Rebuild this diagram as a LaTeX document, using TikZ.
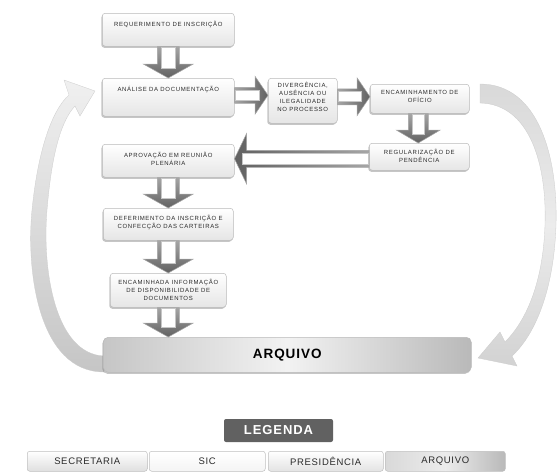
\documentclass[tikz,border=0pt]{standalone}
\usepackage{fontspec}
\setmainfont{Liberation Sans}
\newfontfamily\boxfont[LetterSpace=11]{Liberation Sans}
\newfontfamily\legfont[LetterSpace=7]{Liberation Sans}
\usetikzlibrary{shadows,calc}
\definecolor{txt}{HTML}{2A2A2A}
\tikzset{
  box/.style={draw=gray!55, line width=0.5pt, rounded corners=3pt, top color=white, bottom color=gray!20,
    anchor=north west, inner sep=0pt,
    drop shadow={shadow xshift=-1pt, shadow yshift=-1.5pt, opacity=0.45, fill=gray}},
  boxtext/.style={anchor=north, align=center, inner sep=0pt, text=txt, font=\fontsize{6}{7.9}\selectfont\boxfont},
  blkst/.style={draw=gray!70, line width=0.5pt, line join=miter},
  blkin/.style={fill=white, draw=gray!45, line width=0.6pt},
  legbox/.style={draw=gray!50, line width=0.5pt, rounded corners=2.5pt, anchor=north west, inner sep=0pt,
    minimum height=20pt, font=\fontsize{9.5}{10}\selectfont\legfont, text=txt},
  curv/.style={draw=gray!40, line width=0.3pt}
}
% #1 tail point, #2 anchor giving the tip, #3 shaft half, #4 head half, #5 head length
\newcommand\blkdown[5]{%
  \draw[blkst, top color=black!35, bottom color=black!62] ($(#1)+(-#3,0)$) -- ($(#1|-#2)+(-#3,-#5)$) -- ($(#1|-#2)+(-#4,-#5)$)
  -- (#1|-#2) -- ($(#1|-#2)+(#4,-#5)$) -- ($(#1|-#2)+(#3,-#5)$) -- ($(#1)+(#3,0)$) -- cycle;
  \draw[blkin] ($(#1)+(-#3+4,0.5)$) rectangle ($(#1|-#2)+(#3-4,-#5+4)$);}
\newcommand\blkright[5]{%
  \draw[blkst, left color=black!35, right color=black!62] ($(#1)+(0,-#3)$) -- ($(#2|-#1)+(-#5,-#3)$) -- ($(#2|-#1)+(-#5,-#4)$)
  -- (#2|-#1) -- ($(#2|-#1)+(-#5,#4)$) -- ($(#2|-#1)+(-#5,#3)$) -- ($(#1)+(0,#3)$) -- cycle;
  \draw[blkin] ($(#1)+(0.5,-#3+3)$) rectangle ($(#2|-#1)+(-#5+4,#3-3)$);}
\newcommand\blkleft[5]{%
  \draw[blkst, left color=black!62, right color=black!35] ($(#1)+(0,-#3)$) -- ($(#2|-#1)+(#5,-#3)$) -- ($(#2|-#1)+(#5,-#4)$)
  -- (#2|-#1) -- ($(#2|-#1)+(#5,#4)$) -- ($(#2|-#1)+(#5,#3)$) -- ($(#1)+(0,#3)$) -- cycle;
  \draw[blkin] ($(#1)+(-0.5,-#3+3)$) rectangle ($(#2|-#1)+(#5-4,#3-3)$);}
\begin{document}
\begin{tikzpicture}[x=1pt,y=-1pt]
\useasboundingbox (0,0) rectangle (558,472);

% curved return arrows
\path[curv, top color=gray!12, bottom color=gray!45]
  (104,372) .. controls (38,372) and (26,270) .. (32,210)
  .. controls (38,150) and (52,110) .. (69,95)
  -- (64,80) -- (95,91) -- (80,116) -- (75,106)
  .. controls (62,120) and (52,150) .. (47,210)
  .. controls (42,270) and (55,354) .. (104,356) -- cycle;
\path[curv, top color=gray!30, bottom color=gray!35, middle color=gray!15]
  (480,84) .. controls (540,84) and (558,160) .. (556,225)
  .. controls (554,290) and (535,335) .. (512,356)
  -- (517,366) -- (478,358) -- (500,332) -- (505,342)
  .. controls (525,322) and (543,285) .. (545,225)
  .. controls (547,165) and (530,104) .. (480,103) -- cycle;

% box frames
\path
  (102,13)  coordinate (p1) (102,78) coordinate (p2) (268,78) coordinate (p3)
  (370,84)  coordinate (p4) (369,143) coordinate (p5) (102,144) coordinate (p6)
  (103,208) coordinate (p7) (110,273) coordinate (p8) (103,337) coordinate (p9);
\node[box, minimum width=132pt, minimum height=33pt] (b1) at (p1) {};
\node[box, minimum width=132pt, minimum height=38pt] (b2) at (p2) {};
\node[box, minimum width=69pt, minimum height=45pt] (b3) at (p3) {};
\node[box, minimum width=99pt, minimum height=29pt] (b4) at (p4) {};
\node[box, minimum width=100pt, minimum height=27pt] (b5) at (p5) {};
\node[box, minimum width=132pt, minimum height=33pt] (b6) at (p6) {};
\node[box, minimum width=130pt, minimum height=32pt] (b7) at (p7) {};
\node[box, minimum width=116pt, minimum height=34pt] (b8) at (p8) {};
\node[box, rounded corners=5pt, minimum width=368pt, minimum height=35pt,
  left color=gray!45, right color=gray!55, middle color=gray!10] (b9) at (p9) {};

% block arrows between boxes
\coordinate (s2) at ($(b2.east)+(0,-2)$);
\coordinate (s3) at ($(b3.east)+(0,-4)$);
\coordinate (s4) at ($(b4.south)+(-1.5,0)$);
\coordinate (s5) at ($(b5.west)+(0,2)$);
\coordinate (e8) at (b8.south |- b9.north);
\blkdown{b1.south}{b2.north}{11}{25}{14}
\blkright{s2}{b3.west}{8}{19}{13}
\blkright{s3}{b4.west}{8}{19}{13}
\blkdown{s4}{b5.north}{10}{22}{13}
\blkleft{s5}{b6.east}{8.5}{25}{12}
\blkdown{b6.south}{b7.north}{11}{25}{14}
\blkdown{b7.south}{b8.north}{11}{25}{14}
\blkdown{b8.south}{e8}{11}{25}{14}

% box texts
\node[boxtext] (t1) at ([yshift=-8pt]b1.north) {REQUERIMENTO DE INSCRIÇÃO};
\node[boxtext] (t2) at ([yshift=-8pt]b2.north) {ANÁLISE DA DOCUMENTAÇÃO};
\node[boxtext] (t3) at ([yshift=-4pt]b3.north) {DIVERGÊNCIA,\\AUSÊNCIA OU\\ILEGALIDADE\\NO PROCESSO};
\node[boxtext] (t4) at ([yshift=-6pt]b4.north) {ENCAMINHAMENTO DE\\OFÍCIO};
\node[boxtext] (t5) at ([yshift=-6pt]b5.north) {REGULARIZAÇÃO DE\\PENDÊNCIA};
\node[boxtext] (t6) at ([yshift=-8pt]b6.north) {APROVAÇÃO EM REUNIÃO\\PLENÁRIA};
\node[boxtext] (t7) at ([yshift=-7pt]b7.north) {DEFERIMENTO DA INSCRIÇÃO E\\CONFECÇÃO DAS CARTEIRAS};
\node[boxtext] (t8) at ([yshift=-6pt]b8.north) {ENCAMINHADA INFORMAÇÃO\\DE DISPONIBILIDADE DE\\DOCUMENTOS};
\node[anchor=center, inner sep=0pt, text=black, font=\fontsize{13.5}{14}\selectfont\bfseries\legfont] (t9) at (b9.center) {ARQUIVO};

% legend
\node[fill=black!62, rounded corners=2pt, minimum width=109pt, minimum height=23pt, inner sep=0pt,
  text=white, font=\fontsize{13}{14}\selectfont\bfseries\legfont] (lg) at (278.5,430.5) {LEGENDA};
\node[legbox, minimum width=120pt, top color=white, bottom color=gray!25] (l1) at (27,451) {SECRETARIA};
\node[legbox, minimum width=116pt, top color=white, bottom color=gray!8] (l2) at (149,451) {SIC};
\node[legbox, minimum width=115pt, top color=white, bottom color=gray!22] (l3) at (268,451) {PRESIDÊNCIA};
\node[legbox, minimum width=120pt, left color=gray!30, right color=gray!55, middle color=gray!15] (l4) at (385,451) {ARQUIVO};
\end{tikzpicture}
\end{document}
